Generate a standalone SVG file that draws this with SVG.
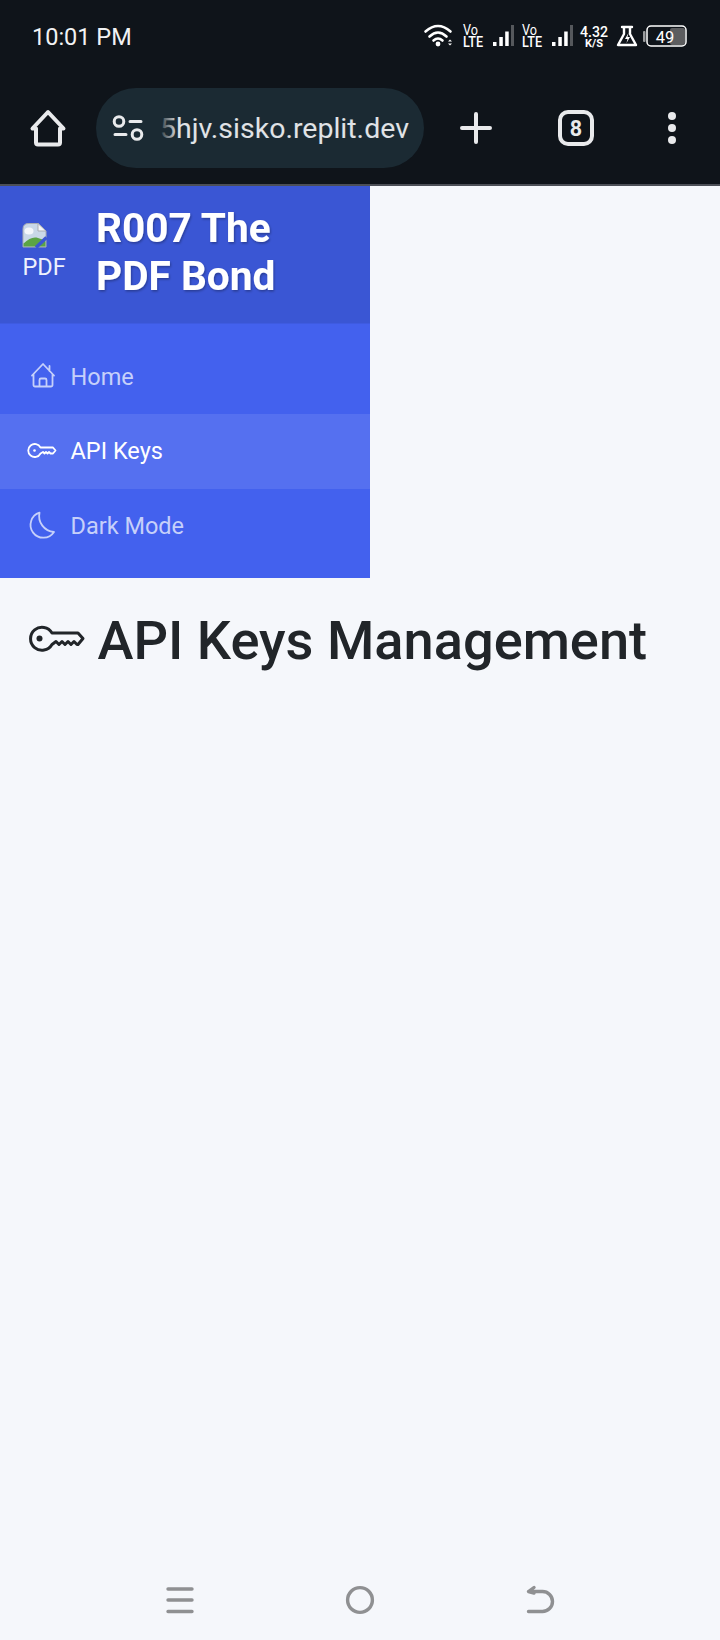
<svg xmlns="http://www.w3.org/2000/svg" width="720" height="1640" viewBox="0 0 720 1640">
<defs>
<style>
text{font-family:Roboto,"Liberation Sans",sans-serif}
.ic{fill:none;stroke:#e9eaec;stroke-width:4;stroke-linecap:round;stroke-linejoin:round}
.st{fill:#fff}
.nav{font-size:23.5px;fill:#c6d0fa}
.n{fill:none;stroke:#c6d0fa;stroke-width:1.8;stroke-linecap:round;stroke-linejoin:round}
.b{fill:none;stroke:#8f9092;stroke-width:3.4;stroke-linecap:round;stroke-linejoin:round}
</style>
<linearGradient id="fade" gradientUnits="userSpaceOnUse" x1="160" x2="178" y1="0" y2="0">
<stop offset="0" stop-color="#e0e3e6" stop-opacity="0.1"/><stop offset="1" stop-color="#e0e3e6"/>
</linearGradient>
<filter id="sh" x="-5%" y="-10%" width="110%" height="125%"><feDropShadow dx="1" dy="1.5" stdDeviation="1.2" flood-color="#000" flood-opacity="0.3"/></filter>
</defs>
<rect width="720" height="1640" fill="#f5f7fb"/>
<g id="topbar">
<rect width="720" height="184" fill="#0f141a"/>
<rect y="184" width="720" height="2" fill="#4c4f57"/>
<text x="32" y="45" font-size="23.5" fill="#f1f2f3">10:01 PM</text>
</g>
<g id="status">
<g fill="none" stroke="#fff" stroke-width="2.6" stroke-linecap="round">
<path d="M425.500 31.500Q438 20.500 450.500 31.500"/><path d="M429.500 36.500Q438 28.500 446.500 36.500"/><path d="M433.500 40.500Q438 36.500 442.500 40.500"/>
</g>
<circle cx="438" cy="44" r="2.400" fill="#fff"/>
<path d="M448 41.500l2-2 2 2zM448 43.500l2 2 2-2z" fill="#fff"/>
<text class="st" x="463" y="35" font-size="14.500" textLength="15" lengthAdjust="spacingAndGlyphs">Vo</text>
<text class="st" x="463" y="46.500" font-size="14" font-weight="500" textLength="20" lengthAdjust="spacingAndGlyphs">LTE</text>
<path d="M493 42h3.500v4h-3.500zM499.300 37h3.500v9h-3.500zM505.200 31.500h3.500v14.500h-3.500z" fill="#fff"/><rect x="511" y="25" width="3" height="21" fill="#55585c"/>
<text class="st" x="522" y="35" font-size="14.500" textLength="15" lengthAdjust="spacingAndGlyphs">Vo</text>
<text class="st" x="522" y="46.500" font-size="14" font-weight="500" textLength="20" lengthAdjust="spacingAndGlyphs">LTE</text>
<path d="M552 42h3.500v4h-3.500zM558.300 37h3.500v9h-3.500zM564.200 31.500h3.500v14.500h-3.500z" fill="#fff"/><rect x="570" y="25" width="3" height="21" fill="#55585c"/>
<text class="st" x="580" y="37" font-size="15" font-weight="500" textLength="28" lengthAdjust="spacingAndGlyphs">4.32</text>
<text class="st" x="585" y="47" font-size="11" font-weight="700" textLength="18" lengthAdjust="spacingAndGlyphs">K/S</text>
<path d="M622 27h10M624 27v7l-6 11h18l-6-11v-7" fill="none" stroke="#fff" stroke-width="2.400" stroke-linejoin="round" stroke-linecap="round"/>
<path d="M628.500 33l-3.500 6h2.500l-1 4 3.500-6h-2.500z" fill="#fff"/>
<rect x="643" y="31" width="2.500" height="11" rx="1" fill="#9a9c9e"/>
<rect x="670" y="28" width="15" height="17" rx="2" fill="#5c5d5f"/>
<rect x="647" y="26" width="39" height="20" rx="4" fill="none" stroke="#fff" stroke-width="1.500"/>
<text class="st" x="665" y="42.500" font-size="16.500" text-anchor="middle">49</text>
</g>
<g id="browser">
<path class="ic" d="M48 112L32.500 128.500H36V142.500a2 2 0 0 0 2 2H58a2 2 0 0 0 2-2V128.500h3.500z"/>
<rect x="96" y="88" width="328" height="80" rx="40" fill="#1b2a33"/>
<g fill="none" stroke="#e9eaec" stroke-width="3" stroke-linecap="round"><circle cx="119" cy="121.500" r="4.800"/><circle cx="137" cy="134.500" r="4.800"/><path d="M130 121.500h11M115 134.500h11"/></g>
<text x="160" y="138" font-size="28.500" fill="url(#fade)">5hjv.sisko.replit.dev</text>
<path class="ic" d="M476 114v28M462 128h28"/>
<rect class="ic" x="560" y="112" width="32" height="32" rx="8"/>
<text x="576" y="136" font-size="21.500" font-weight="700" fill="#e9eaec" text-anchor="middle">8</text>
<g fill="#e9eaec"><circle cx="672" cy="116" r="4"/><circle cx="672" cy="128" r="4"/><circle cx="672" cy="140" r="4"/></g>
</g>
<g id="sidebar">
<rect y="186" width="370" height="392" fill="#4361ee"/>
<rect y="186" width="370" height="137.500" fill="#3a56d4"/>
<rect y="414" width="370" height="75" fill="#5570f0"/>
</g>
<g id="brand">
<path d="M23 229q0-5.500 5.500-5.500H38l8 7.500V247H23z" fill="#c9d8e8" stroke="#a9adb3" stroke-width="1"/>
<ellipse cx="29" cy="231" rx="4.500" ry="3.500" fill="#f4f7fb"/>
<path d="M23.500 246.500v-3q7-7 13-6l6 2 3 2v5z" fill="#5ba445"/>
<path d="M46.500 237.500L36 247.500" stroke="#3a56d4" stroke-width="3.500" fill="none"/>
<path d="M38 223.500v7.500h8z" fill="#f4f6f9" stroke="#a9adb3" stroke-width="1"/>
<text x="22.500" y="274.500" font-size="23.500" fill="#eef1fd">PDF</text>
<g filter="url(#sh)" fill="#fff" font-size="40.600" font-weight="700"><text x="96" y="241.500">R007 The</text><text x="96" y="290">PDF Bond</text></g>
</g>
<g id="nav-home">
<path class="n" d="M32 375.500L43 364 54 375.500M33.500 374V385a1.500 1.500 0 0 0 1.500 1.500H51a1.500 1.500 0 0 0 1.500-1.500V374M39.500 386.500V380a1.500 1.500 0 0 1 1.500-1.500H45a1.500 1.500 0 0 1 1.500 1.500V386.500M49.500 366v5"/>
<text class="nav" x="70.500" y="385">Home</text>
</g>
<g id="nav-api">
<path class="n" style="stroke:#fff" stroke-width="1.600" d="M40.500 447.500A6.500 6.500 0 1 0 40.500 453.500L43 452 44.500 453.500 46 452 47.500 453.500 49 452 50.500 453.500H53L55.500 450.500 53 447.500Z"/><circle cx="34.500" cy="450.500" r="1.300" fill="#fff"/>
<text class="nav" style="fill:#fff" x="70.500" y="459">API Keys</text>
</g>
<g id="nav-dark">
<path class="n" d="M39.500 512.700A12.800 12.800 0 1 0 54 532 16 16 0 0 1 39.500 512.700Z"/>
<text class="nav" x="70.500" y="534">Dark Mode</text>
</g>
<g id="heading">
<path fill="none" stroke="#212529" stroke-width="3" stroke-linejoin="round" d="M52 633A11.500 11.500 0 1 0 52 644.500L56 641.500 59 644.500 62 641.500 65 644.500 68 641.500 71 644.500 74 641.500 77 644.500 78 644.500 83 638.500 78 633Z"/>
<circle cx="39.500" cy="638.500" r="3" fill="#212529"/>
<text x="97.500" y="659" font-size="54.200" font-weight="500" fill="#212529">API Keys Management</text>
</g>
<g id="navbar">
<path class="b" d="M168 1589h24M168 1600h24M168 1611.500h24"/>
<circle class="b" cx="360" cy="1600" r="12.400"/>
<path class="b" d="M534 1587.500L528.500 1591.500 534 1593M528.500 1591.500H542.500a10 10 0 0 1 0 20H528.500"/>
</g>
</svg>
